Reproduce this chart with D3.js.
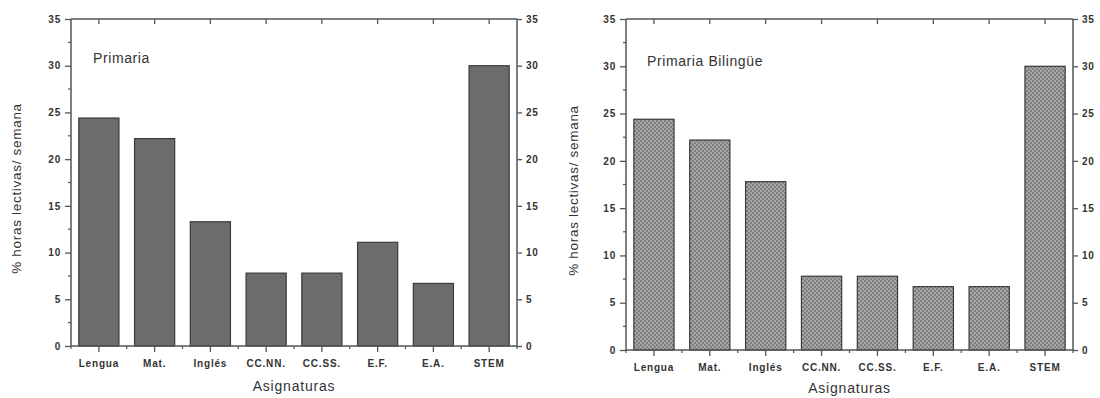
<!DOCTYPE html>
<html>
<head>
<meta charset="utf-8">
<script src="https://cdn.jsdelivr.net/npm/d3@7"></script>
<style>
  html, body { margin: 0; padding: 0; background: #fff; }
  svg { display: block; }
  text { font-family: "Liberation Sans", Arial, sans-serif; }
</style>
</head>
<body>
<svg id="chart" width="1100" height="398"></svg>
<script>
// Subjects and the share of weekly teaching hours (%) for each plan
const categories = ["Lengua", "Mat.", "Inglés", "CC.NN.", "CC.SS.", "E.F.", "E.A.", "STEM"];
const primariaValues = [24.4, 22.2, 13.3, 7.8, 7.8, 11.1, 6.7, 30.0];
const bilingueValues = [24.4, 22.2, 17.8, 7.8, 7.8, 6.7, 6.7, 30.0];
const yTicks = [0, 5, 10, 15, 20, 25, 30, 35];
const yMinorTicks = [2.5, 7.5, 12.5, 17.5, 22.5, 27.5, 32.5];
const panelTitles = ["Primaria", "Primaria Bilingüe"];
const yTitle = "% horas lectivas/ semana";
const xTitle = "Asignaturas";

const svg = d3.select("#chart");
const defs = svg.append("defs");

// dotted hatch for the bilingual bars
const pat = defs.append("pattern")
  .attr("id", "dots").attr("width", 4).attr("height", 4)
  .attr("patternUnits", "userSpaceOnUse");
pat.append("rect").attr("width", 4).attr("height", 4).attr("fill", "#a6a6a6");
pat.append("rect").attr("x", 0).attr("y", 0).attr("width", 2).attr("height", 2).attr("fill", "#808080");
pat.append("rect").attr("x", 2).attr("y", 2).attr("width", 2).attr("height", 2).attr("fill", "#808080");

// fine texture for the regular bars
const pat2 = defs.append("pattern")
  .attr("id", "dark").attr("width", 4).attr("height", 4)
  .attr("patternUnits", "userSpaceOnUse");
pat2.append("rect").attr("width", 4).attr("height", 4).attr("fill", "#6e6e6e");
pat2.append("rect").attr("x", 0).attr("y", 0).attr("width", 2).attr("height", 2).attr("fill", "#6a6a6a");
pat2.append("rect").attr("x", 2).attr("y", 2).attr("width", 2).attr("height", 2).attr("fill", "#6a6a6a");

const panels = [
  { values: primariaValues, title: panelTitles[0], x0: 71, x1: 517, top: 19, bottom: 346,
    fill: "url(#dark)", yTitleX: 21, xTitleY: 391, titleX: 93, titleY: 63 },
  { values: bilingueValues, title: panelTitles[1], x0: 626, x1: 1073, top: 19, bottom: 350,
    fill: "url(#dots)", yTitleX: 578, xTitleY: 393, titleX: 647, titleY: 66 }
];

const axisColor = "#555";
const tickFont = 10;

panels.forEach(p => {
  const g = svg.append("g");
  const x = d3.scaleBand().domain(categories).range([p.x0, p.x1])
    .paddingInner(0.28).paddingOuter(0.14);
  const y = d3.scaleLinear().domain([0, 35]).range([p.bottom, p.top]);

  // bars
  g.selectAll("rect.bar").data(p.values).enter().append("rect")
    .attr("class", "bar")
    .attr("x", (d, i) => x(categories[i]))
    .attr("y", d => y(d))
    .attr("width", x.bandwidth())
    .attr("height", d => y(0) - y(d))
    .attr("fill", p.fill)
    .attr("stroke", "#3a3a3a")
    .attr("stroke-width", 1.2);

  const step = x.step();
  const boundaries = d3.range(1, categories.length).map(i => p.x0 + step * i);

  // frame lines
  const line = (x1, y1, x2, y2, w) => g.append("line")
    .attr("x1", x1).attr("y1", y1).attr("x2", x2).attr("y2", y2)
    .attr("stroke", axisColor).attr("stroke-width", w || 1.5);
  line(p.x0, p.top, p.x1, p.top);
  line(p.x0, p.bottom, p.x1, p.bottom);
  line(p.x0, p.top, p.x0, p.bottom);
  line(p.x1, p.top, p.x1, p.bottom);

  // bottom axis: major ticks at categories, minor at band edges
  const bottomAxis = d3.axisBottom(x).tickSize(6).tickPadding(8);
  const bx = g.append("g").attr("transform", `translate(0,${p.bottom})`).call(bottomAxis);
  bx.select(".domain").remove();
  bx.selectAll(".tick line").attr("stroke", axisColor).attr("stroke-width", 1.3);
  bx.selectAll(".tick text").attr("fill", "#333").attr("font-size", tickFont)
    .attr("font-weight", "bold").attr("letter-spacing", 0.8);
  boundaries.concat([p.x0, p.x1]).forEach(bxv => line(bxv, p.bottom, bxv, p.bottom + 3, 1.2));

  // top axis: ticks pointing inward, no labels
  const topAxis = d3.axisBottom(x).tickSize(5).tickFormat("");
  const tx = g.append("g").attr("transform", `translate(0,${p.top})`).call(topAxis);
  tx.select(".domain").remove();
  tx.selectAll(".tick line").attr("stroke", axisColor).attr("stroke-width", 1.3);

  // left axis
  const leftAxis = d3.axisLeft(y).tickValues(yTicks).tickSize(6).tickPadding(4);
  const lx = g.append("g").attr("transform", `translate(${p.x0},0)`).call(leftAxis);
  lx.select(".domain").remove();
  lx.selectAll(".tick line").attr("stroke", axisColor).attr("stroke-width", 1.3);
  lx.selectAll(".tick text").attr("fill", "#333").attr("font-size", tickFont)
    .attr("font-weight", "bold").attr("letter-spacing", 0.8);
  yMinorTicks.forEach(v => line(p.x0 - 3, y(v), p.x0, y(v), 1.2));

  // right axis
  const rightAxis = d3.axisRight(y).tickValues(yTicks).tickSize(5).tickPadding(4);
  const rx = g.append("g").attr("transform", `translate(${p.x1},0)`).call(rightAxis);
  rx.select(".domain").remove();
  rx.selectAll(".tick line").attr("stroke", axisColor).attr("stroke-width", 1.3);
  rx.selectAll(".tick text").attr("fill", "#333").attr("font-size", tickFont)
    .attr("font-weight", "bold").attr("letter-spacing", 0.8);

  // panel label
  g.append("text").attr("x", p.titleX).attr("y", p.titleY)
    .attr("font-size", 14).attr("letter-spacing", 0.6).attr("fill", "#333").text(p.title);

  // axis titles
  g.append("text")
    .attr("transform", `translate(${p.yTitleX},${(p.top + p.bottom) / 2 + 6}) rotate(-90)`)
    .attr("text-anchor", "middle").attr("font-size", 13.5).attr("letter-spacing", 0.7)
    .attr("fill", "#333")
    .text(yTitle);
  g.append("text").attr("x", (p.x0 + p.x1) / 2).attr("y", p.xTitleY)
    .attr("text-anchor", "middle").attr("font-size", 14).attr("letter-spacing", 0.8)
    .attr("fill", "#333")
    .text(xTitle);
});
</script>
</body>
</html>
